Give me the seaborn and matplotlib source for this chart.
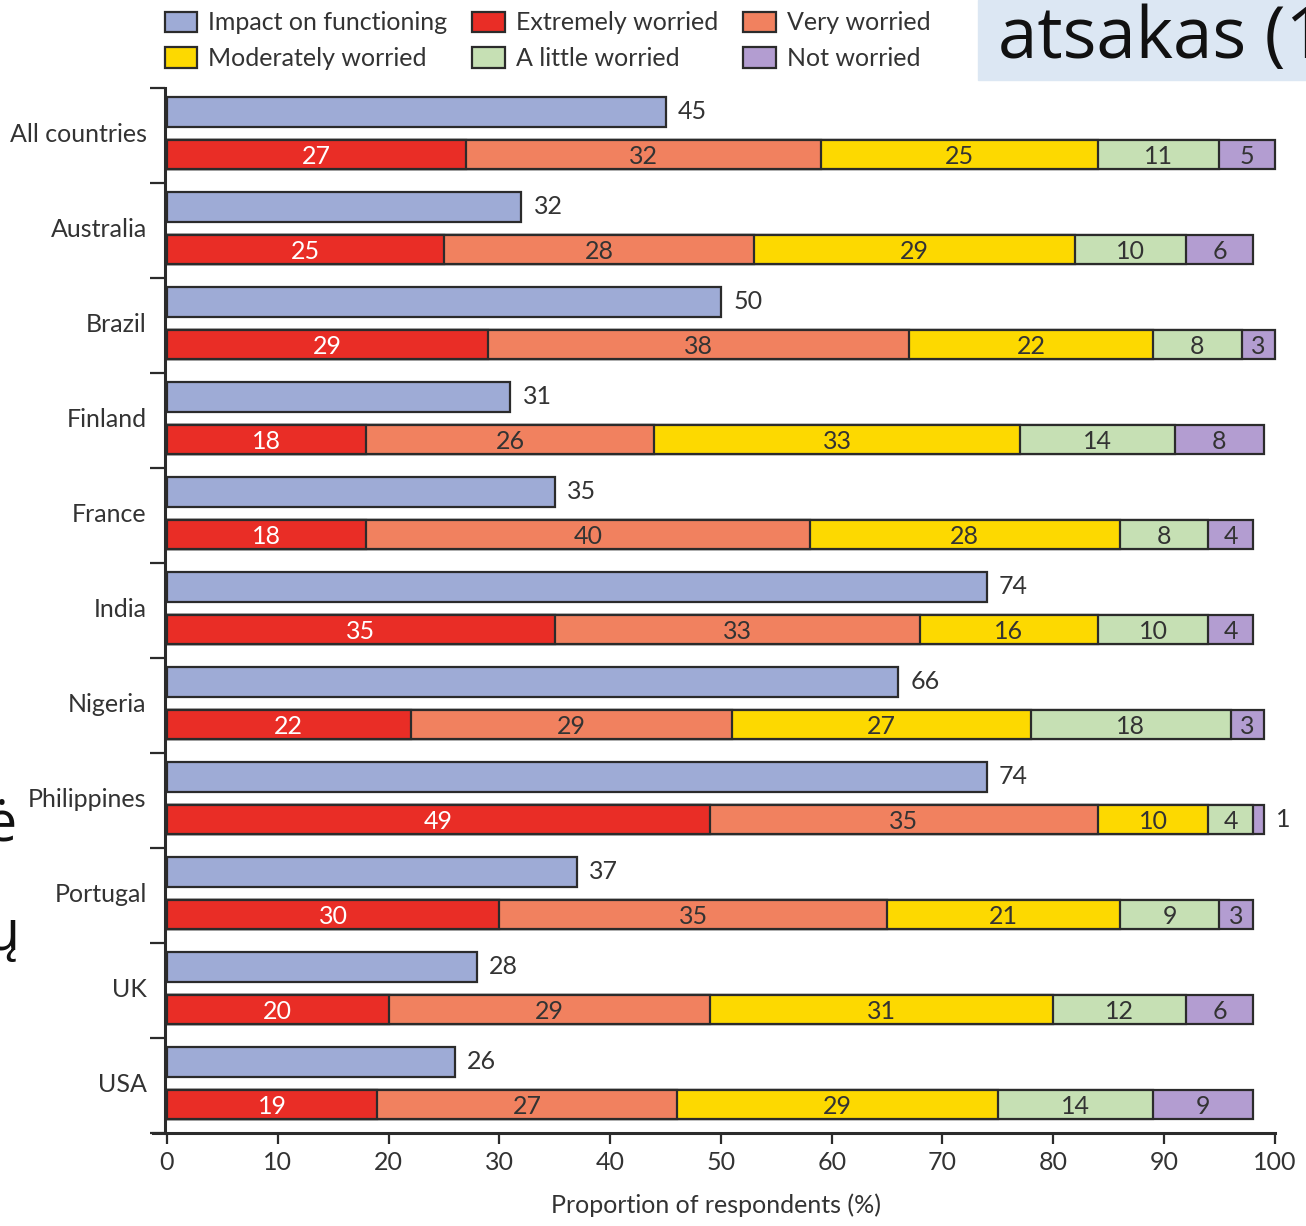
import matplotlib
matplotlib.use("Agg")
import matplotlib.pyplot as plt
from matplotlib.patches import Patch, Rectangle
import numpy as np
import pandas as pd
import seaborn as sns

countries = ["All countries", "Australia", "Brazil", "Finland", "France", "India",
             "Nigeria", "Philippines", "Portugal", "UK", "USA"]
impact = [45, 32, 50, 31, 35, 74, 66, 74, 37, 28, 26]
extremely = [27, 25, 29, 18, 18, 35, 22, 49, 30, 20, 19]
very = [32, 28, 38, 26, 40, 33, 29, 35, 35, 29, 27]
moderately = [25, 29, 22, 33, 28, 16, 27, 10, 21, 31, 29]
little = [11, 10, 8, 14, 8, 10, 18, 4, 9, 12, 14]
not_worried = [5, 6, 3, 8, 4, 4, 3, 1, 3, 6, 9]

worry_names = ["Extremely worried", "Very worried", "Moderately worried",
               "A little worried", "Not worried"]
colors = {
    "Impact on functioning": "#9eabd6",
    "Extremely worried": "#e92d26",
    "Very worried": "#f1815f",
    "Moderately worried": "#fdd900",
    "A little worried": "#c6e0b4",
    "Not worried": "#b39dd1",
}
edge = "#2b2b2b"
txt = "#333333"

sns.set_theme(style="white")
plt.rcParams["font.family"] = ["Lato", "DejaVu Sans"]

df = pd.DataFrame({
    "country": countries,
    "impact": impact,
    "Extremely worried": extremely,
    "Very worried": very,
    "Moderately worried": moderately,
    "A little worried": little,
    "Not worried": not_worried,
})
df["pos"] = np.arange(len(df))
df["impact_y"] = df["pos"] + 0.25
df["worry_y"] = df["pos"] + 0.70
cum = df[worry_names].cumsum(axis=1)

fig = plt.figure(figsize=(13.06, 12.26), dpi=100)
ax = fig.add_axes([0.1168, 0.0758, 0.8636, 0.8524])

bar_kw = dict(orient="y", native_scale=True, width=0.31, saturation=1,
              edgecolor=edge, linewidth=1.6, errorbar=None, ax=ax)
sns.barplot(x=df["impact"], y=df["impact_y"], color=colors["Impact on functioning"], **bar_kw)
# stacked: draw cumulative totals from the outside in
for name in reversed(worry_names):
    sns.barplot(x=cum[name], y=df["worry_y"], color=colors[name], **bar_kw)

fs = 18
# value labels
for _, r in df.iterrows():
    ax.text(r["impact"] + 1.1, r["impact_y"], str(r["impact"]), va="center", ha="left",
            fontsize=fs, color=txt)
for name in worry_names:
    for i, r in df.iterrows():
        v = r[name]
        end = cum.loc[i, name]
        c = "white" if name == "Extremely worried" else txt
        if v <= 1:
            ax.text(end + 1.1, r["worry_y"], str(v), va="center", ha="left", fontsize=fs, color=txt)
        else:
            ax.text(end - v / 2, r["worry_y"] + 0.02, str(v), va="center", ha="center",
                    fontsize=fs, color=c)

ax.set_xlim(-1.3, 100.5)
ax.set_ylim(len(df), 0)
ax.set_xticks(range(0, 101, 10))
ax.set_yticks(np.arange(len(df) + 1))
ax.set_yticklabels([])
ax.set_yticks(df["pos"] + 0.47, minor=True)
ax.set_yticklabels(countries, minor=True)
ax.tick_params(axis="y", which="major", left=True, length=11, width=1.6, color=edge, direction="out")
ax.tick_params(axis="y", which="minor", left=True, length=0, pad=13, labelsize=fs, labelcolor=txt)
ax.tick_params(axis="x", bottom=True, length=8, width=1.6, color=edge, direction="out",
               labelsize=fs, labelcolor=txt, pad=5)
ax.set_ylabel("")
ax.set_xlabel("Proportion of respondents (%)", fontsize=fs, color=txt, labelpad=14)

sns.despine(ax=ax)
ax.spines["left"].set_position(("data", -0.2))
ax.spines["left"].set_bounds(0, len(df))
ax.spines["bottom"].set_bounds(-1.3, 100)
for s in ["left", "bottom"]:
    ax.spines[s].set_color(edge)
    ax.spines[s].set_linewidth(2.2)
ax.grid(False)

legend_names = ["Impact on functioning", "Moderately worried", "Extremely worried",
                "A little worried", "Very worried", "Not worried"]
handles = [Patch(facecolor=colors[n], edgecolor=edge, linewidth=1.6) for n in legend_names]
fig.legend(handles, legend_names, ncol=3, loc="upper left",
           bbox_to_anchor=(142 / 1306, 1 + 11 / 1226), frameon=False, fontsize=18,
           handlelength=1.3, handleheight=0.9, handletextpad=0.45,
           columnspacing=1.0, labelspacing=0.5, labelcolor=txt)

# overlay fragments from the screenshot
fig.patches.append(Rectangle((978 / 1306, 1 - 80 / 1226), 1, 80 / 1226,
                             transform=fig.transFigure, color="#dce7f3", zorder=0))
fig.text(998 / 1306, 1 - 58 / 1226, "atsakas (1", fontsize=51, family="Open Sans",
         color="#111111", va="baseline")
fig.text(-14 / 1306, 1 - 826 / 1226, "ė", fontsize=40, family="Open Sans", color="#111111",
         va="center")
fig.text(-14 / 1306, 1 - 935 / 1226, "ų", fontsize=40, family="Open Sans", color="#111111",
         va="center")

fig.savefig("out.png", dpi=100)
